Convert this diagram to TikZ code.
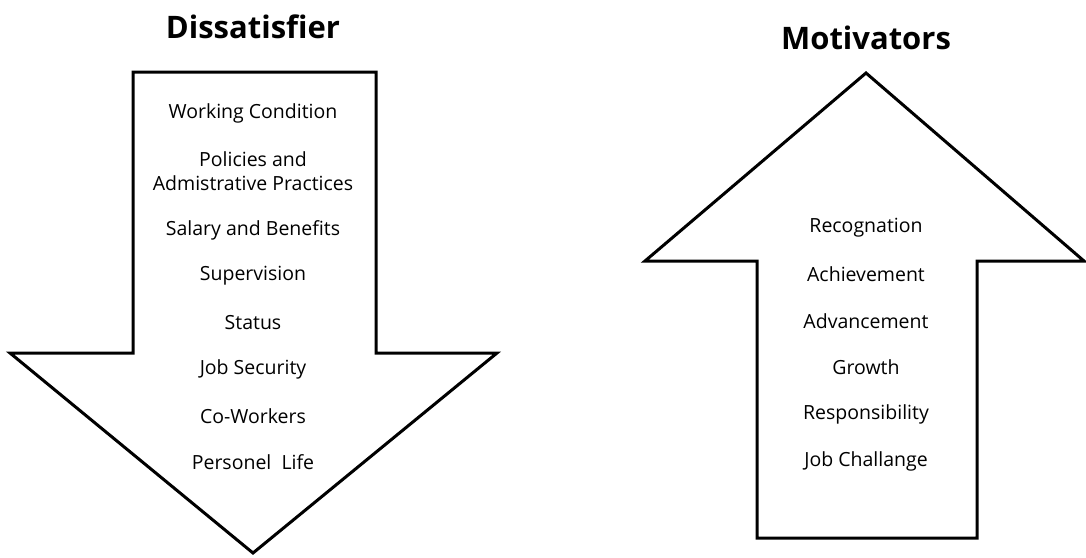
\documentclass[tikz,border=0pt]{standalone}
\usepackage{fontspec}
\setmainfont{Open Sans}
\begin{document}
\begin{tikzpicture}[x=1pt,y=-1pt,
  arrowshape/.style={draw=black,line width=3pt,line join=miter,fill=white},
  title/.style={font=\fontsize{31}{36}\selectfont\bfseries,anchor=center},
  item/.style={font=\fontsize{19.5}{24}\selectfont,anchor=center,align=center}]
\useasboundingbox (0,0) rectangle (1086,557);
% left arrow (down)
\draw[arrowshape] (133,72) -- (376,72) -- (376,353) -- (497,353) -- (253,553) -- (10,353) -- (133,353) -- cycle;
% right arrow (up)
\draw[arrowshape] (866,73) -- (1084,261) -- (977,261) -- (977,538) -- (757,538) -- (757,261) -- (645,261) -- cycle;
\node[title] (t1) at (253,27) {Dissatisfier};
\node[title] (t2) at (866,38) {Motivators};
\node[item] (l1) at (253,113) {Working Condition};
\node[item] (l2) at (253,171) {Policies and\\Admistrative Practices};
\node[item] (l3) at (253,230) {Salary and Benefits};
\node[item] (l4) at (253,276) {Supervision};
\node[item] (l5) at (253,323) {Status};
\node[item] (l6) at (253,369) {Job Security};
\node[item] (l7) at (253,416) {Co-Workers};
\node[item] (l8) at (253,462) {Personel\ \ Life};
\node[item] (r1) at (866,228) {Recognation};
\node[item] (r2) at (866,274) {Achievement};
\node[item] (r3) at (866,321) {Advancement};
\node[item] (r4) at (866,367) {Growth};
\node[item] (r5) at (866,414) {Responsibility};
\node[item] (r6) at (866,461) {Job Challange};
\end{tikzpicture}
\end{document}
